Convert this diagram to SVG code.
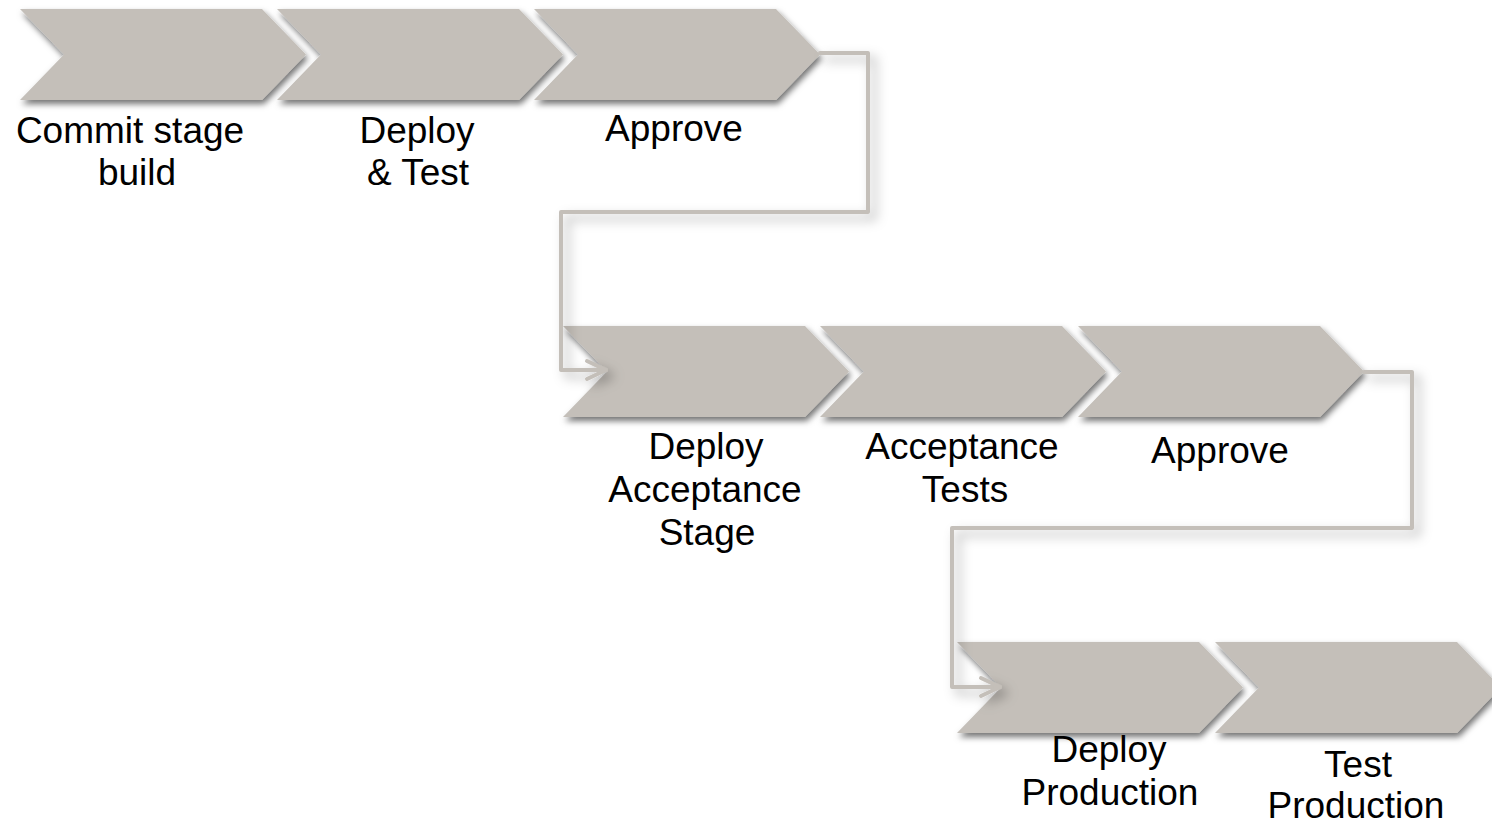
<svg xmlns="http://www.w3.org/2000/svg" xmlns:xlink="http://www.w3.org/1999/xlink" width="1492" height="825" viewBox="0 0 1492 825">
  <style>
    .chev { fill: #c4bfb9; filter: url(#shadow); }
    .lbl { font-family: "Liberation Sans", Arial, sans-serif; font-size: 37px; fill: #000; text-anchor: middle; }
    .conn { fill: none; stroke: #c4bfb9; stroke-width: 4; stroke-linejoin: round; stroke-linecap: round; filter: url(#lineshadow); }
  </style>
  <defs>
    <filter id="shadow" x="-10%" y="-20%" width="130%" height="160%">
      <feDropShadow dx="2" dy="4" stdDeviation="3" flood-color="#000" flood-opacity="0.55"/>
    </filter>
    <filter id="lineshadow" x="-20%" y="-20%" width="150%" height="150%">
      <feDropShadow dx="6" dy="6" stdDeviation="6" flood-color="#000" flood-opacity="0.3"/>
    </filter>
    <polygon id="chevron" points="0,0 242,0 286,45.5 242,91 0,91 44,45.5"/>
    <marker id="arrow" markerUnits="userSpaceOnUse" markerWidth="30" markerHeight="30" viewBox="-25 -15 30 30" refX="0" refY="0" orient="auto" overflow="visible">
      <path d="M -19 -9 L 0 0 L -19 9" fill="none" stroke="#c4bfb9" stroke-width="4" stroke-linecap="round" stroke-linejoin="round"/>
    </marker>
  </defs>
  <rect width="1492" height="825" fill="#fff"/>

  <g id="commit-stage">
    <use xlink:href="#chevron" class="chev" x="20" y="9"/>
    <text class="lbl" x="130" y="143">Commit stage</text>
    <text class="lbl" x="137" y="185">build</text>
  </g>
  <g id="deploy-test">
    <use xlink:href="#chevron" class="chev" x="277" y="9"/>
    <text class="lbl" x="417" y="143">Deploy</text>
    <text class="lbl" x="418" y="185">&amp; Test</text>
  </g>
  <g id="approve-1">
    <use xlink:href="#chevron" class="chev" x="534" y="9"/>
    <text class="lbl" x="674" y="141">Approve</text>
  </g>

  <g id="deploy-acceptance">
    <use xlink:href="#chevron" class="chev" x="563" y="326"/>
    <text class="lbl" x="706" y="459">Deploy</text>
    <text class="lbl" x="705" y="502">Acceptance</text>
    <text class="lbl" x="707" y="545">Stage</text>
  </g>
  <g id="acceptance-tests">
    <use xlink:href="#chevron" class="chev" x="820" y="326"/>
    <text class="lbl" x="962" y="459">Acceptance</text>
    <text class="lbl" x="965" y="502">Tests</text>
  </g>
  <g id="approve-2">
    <use xlink:href="#chevron" class="chev" x="1078" y="326"/>
    <text class="lbl" x="1220" y="463">Approve</text>
  </g>

  <g id="deploy-production">
    <use xlink:href="#chevron" class="chev" x="957" y="642"/>
    <text class="lbl" x="1109" y="762">Deploy</text>
    <text class="lbl" x="1110" y="805">Production</text>
  </g>
  <g id="test-production">
    <use xlink:href="#chevron" class="chev" x="1215" y="642"/>
    <text class="lbl" x="1358" y="777">Test</text>
    <text class="lbl" x="1356" y="818">Production</text>
  </g>

  <g id="connectors">
    <path class="conn" d="M 820 53 H 868 V 212 H 561 V 370 H 606" marker-end="url(#arrow)"/>
    <path class="conn" d="M 1364 372 H 1412 V 528 H 952 V 687 H 1000" marker-end="url(#arrow)"/>
  </g>
</svg>
